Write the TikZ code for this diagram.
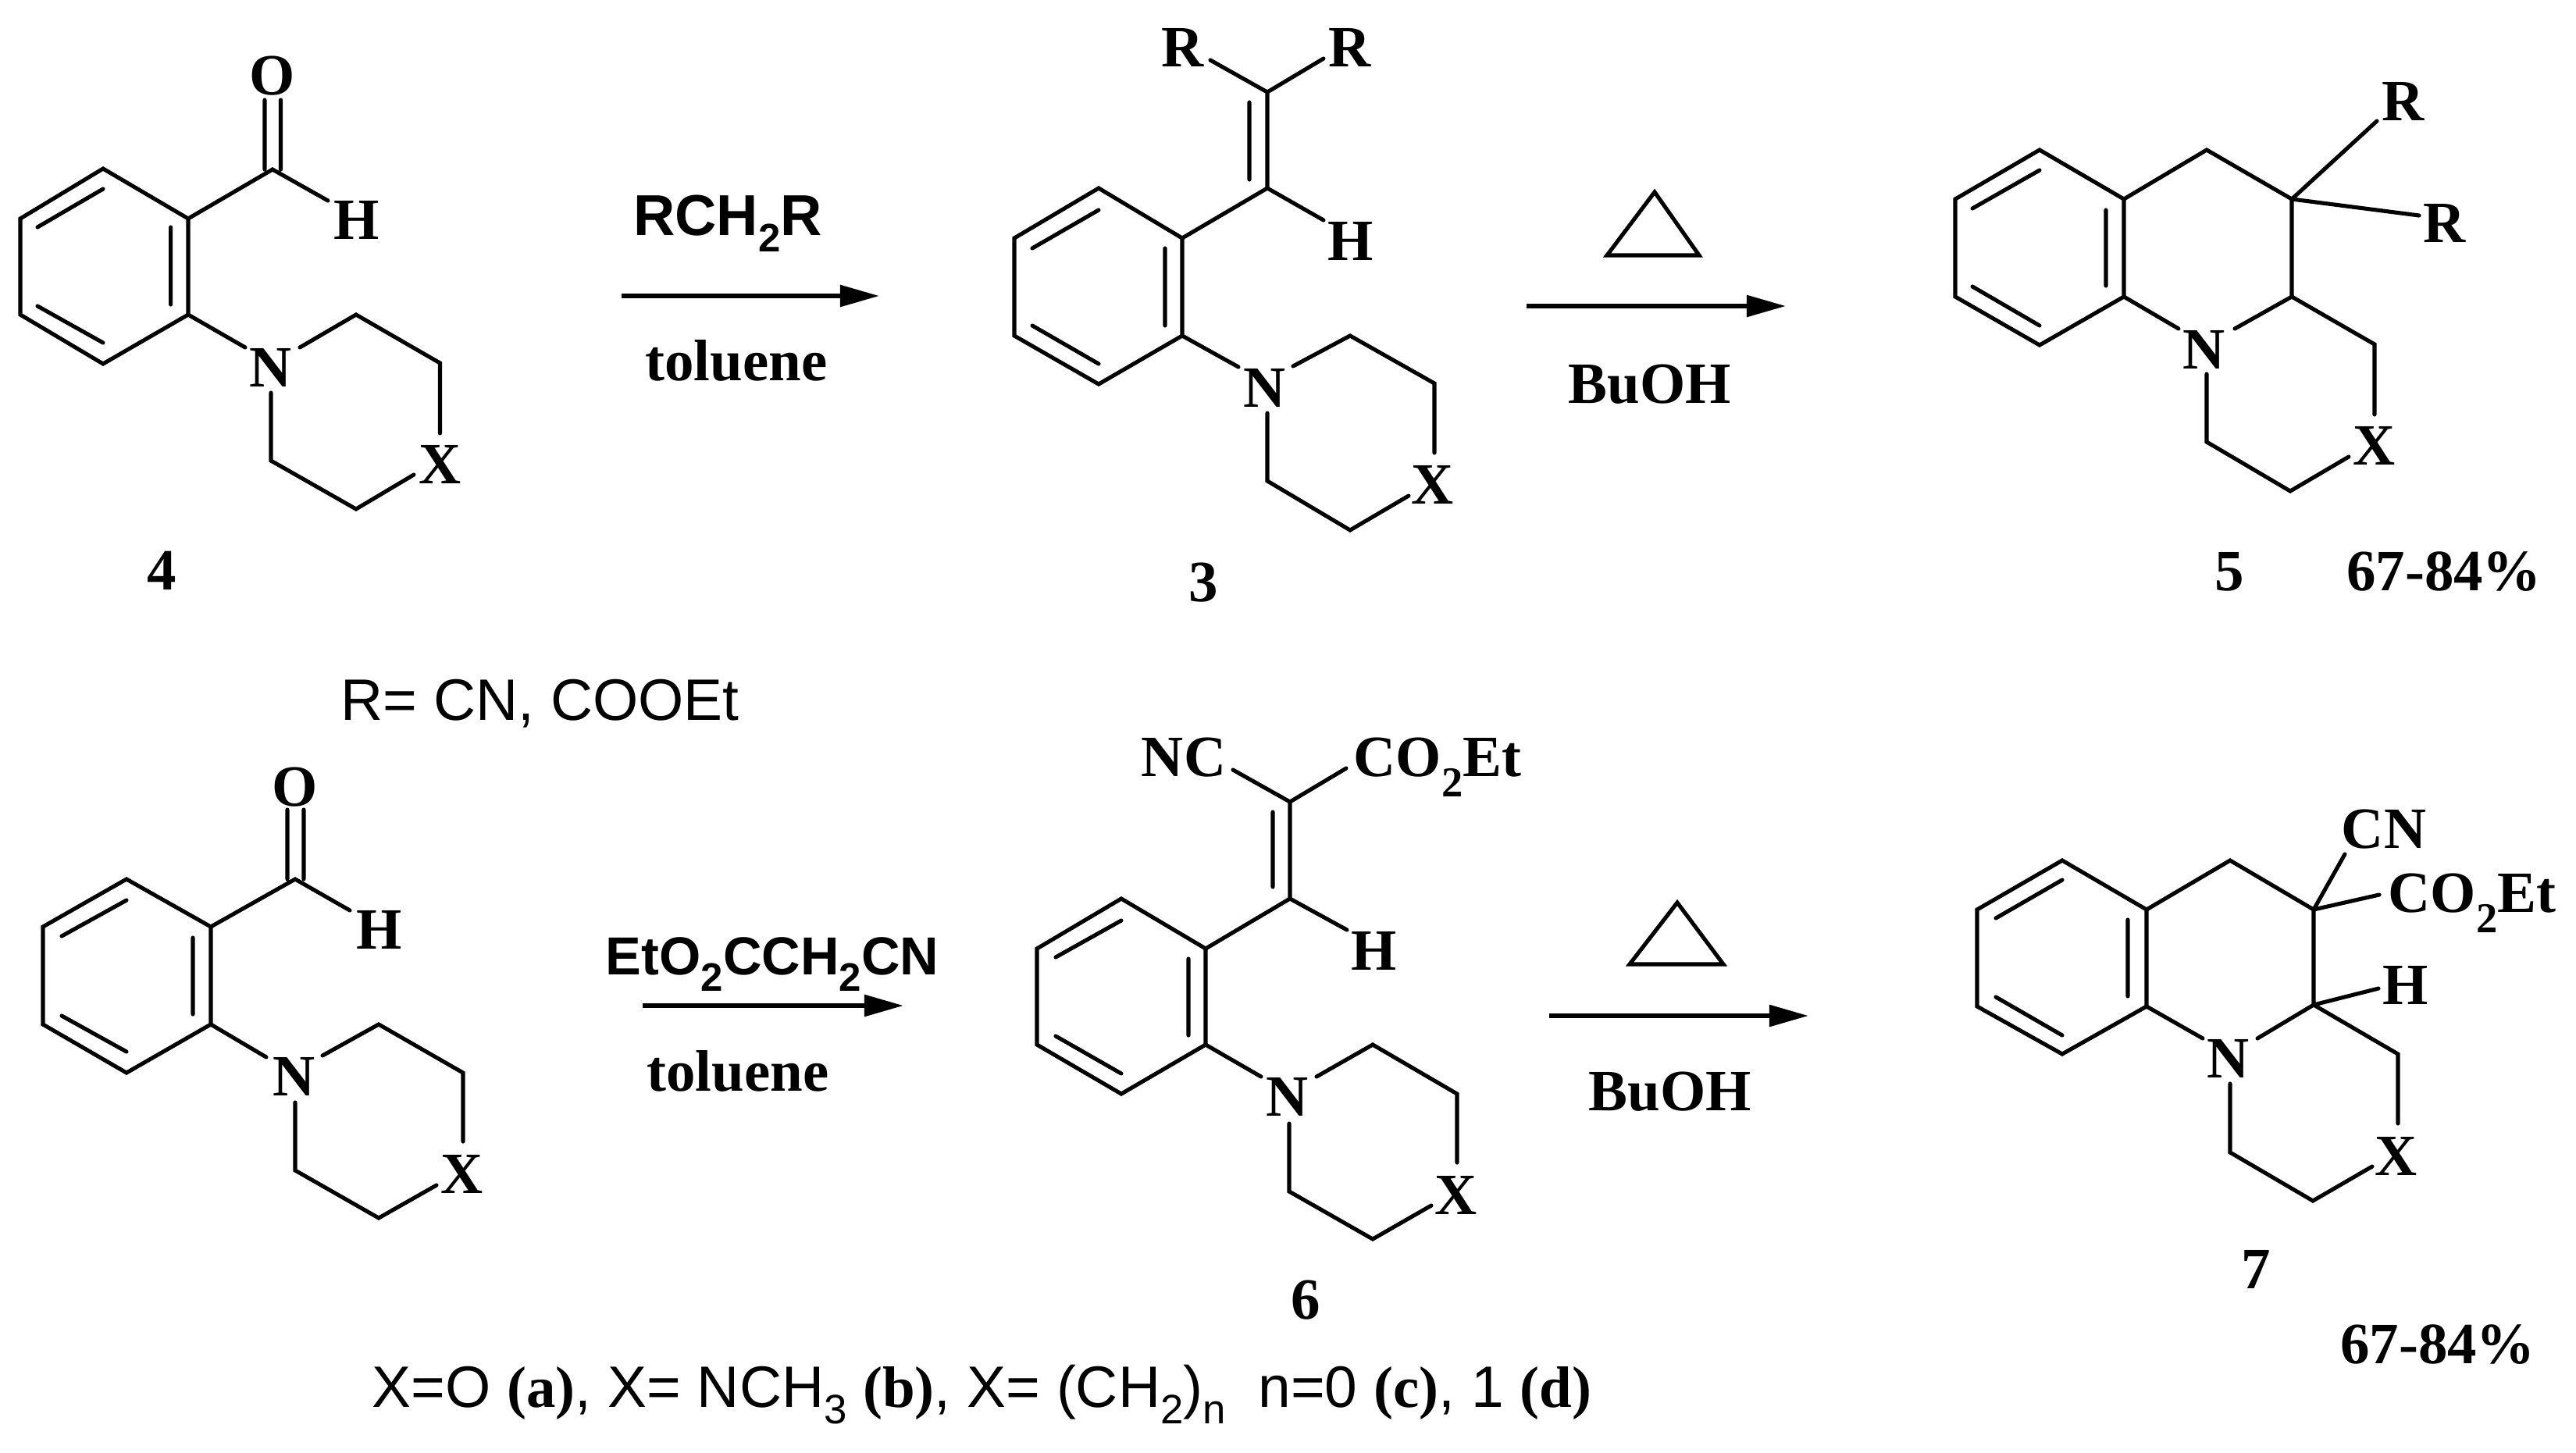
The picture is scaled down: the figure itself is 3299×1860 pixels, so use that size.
\documentclass[tikz,border=0pt]{standalone}
\usepackage{fontspec}
\setmainfont{Liberation Serif}
\newfontfamily\arialf{Liberation Sans}
\usetikzlibrary{arrows.meta}
\newcommand\subtm[1]{\raisebox{-7.4pt}{\fontsize{15.5}{15.5}\selectfont #1}}
\newcommand\subar[1]{\raisebox{-6pt}{\fontsize{14.5}{14.5}\selectfont #1}}
\newcommand\subcap[1]{\raisebox{-6pt}{\fontsize{15}{15}\selectfont #1}}
\newcommand\tb[1]{{\rmfamily\bfseries #1}}
\tikzset{
  bond/.style={line width=1.45pt,line cap=round,line join=miter,black},
  rxn/.style={line width=1.6pt,black,-{Triangle[length=0.5cm,width=0.27cm]}},
  heat/.style={line width=1.45pt,black,line join=miter},
  atom/.style={inner sep=0pt,font=\rmfamily\bfseries\fontsize{21.3}{21.3}\selectfont,text=black},
  reag/.style={inner sep=0pt,anchor=base,font=\arialf\bfseries\fontsize{19.5}{19.5}\selectfont,text=black},
  plain/.style={inner sep=0pt,anchor=base west,font=\arialf\fontsize{21.3}{21.3}\selectfont,text=black},
}
\begin{document}
\begin{tikzpicture}[x=0.01cm,y=-0.01cm]
\useasboundingbox (0,0) rectangle (3299,1860);
\fill[white] (0,0) rectangle (3299,1860);
% ---------- compound 4
\foreach \n/\x/\y in {a1/132/216,a2/241/280,a3/241/403,a4/132/466,a5/26/403,a6/26/280,
 ai1/218.6/291,ai2/218.6/390,ai3/48/291,ai4/132/242,ai5/48/392,ai6/132/439,
 ac/349/217,ao1/339/128,ao2/359.5/128,ao3/339/217,ao4/359.5/217,ah/420/257,
 an1/314/445,an2/384/445,an3/347/503,ar1/456/403,ar2/563.5/465,ar3/563.5/555,ar4/530/608,ar5/456/652,ar6/347/590}
 {\coordinate (\n) at (\x,\y);}
\draw[bond] (a1)--(a2)--(a3)--(a4)--(a5)--(a6)--cycle;
\draw[bond] (ai1)--(ai2) (ai3)--(ai4) (ai5)--(ai6);
\draw[bond] (a2)--(ac)--(ah) (ao1)--(ao3) (ao2)--(ao4);
\draw[bond] (a3)--(an1) (an2)--(ar1)--(ar2)--(ar3) (ar4)--(ar5)--(ar6)--(an3);
\node[atom] (aO) at (349,97) {O};
\node[atom] (aH) at (457,282) {H};
\node[atom] (aN) at (347,471) {N};
\node[atom] (aX) at (563.5,595) {X};
\node[atom] (l4) at (207,731) {4};
% ---------- arrow 1
\coordinate (r1s) at (796,379); \coordinate (r1e) at (1126,379);
\draw[rxn] (r1s)--(r1e);
\node[reag,font=\arialf\bfseries\fontsize{21}{21}\selectfont] (r1t) at (932,301) {RCH\subar{2}R};
\node[atom,anchor=base] (r1b) at (943,487) {toluene};
% ---------- compound 3
\foreach \n/\x/\y in {b1/1407/241,b2/1514/305,b3/1514/430,b4/1407/492,b5/1299/430,b6/1299/305,
 bi1/1492/318,bi2/1492/417,bi3/1322/318,bi4/1407/269,bi5/1322/417,bi6/1407/466,
 bv1/1623/241,bv2/1623/118,bv3/1600/131,bv4/1600/230,brl/1550/77,brr/1695/75,bh/1695/282,
 bn1/1586/470,bn2/1656/469,bn3/1623/529,br1/1729/430,br2/1837/491,br3/1837/580,br4/1804/635,br5/1729/679,br6/1623/616}
 {\coordinate (\n) at (\x,\y);}
\draw[bond] (b1)--(b2)--(b3)--(b4)--(b5)--(b6)--cycle;
\draw[bond] (bi1)--(bi2) (bi3)--(bi4) (bi5)--(bi6);
\draw[bond] (b2)--(bv1)--(bv2) (bv3)--(bv4) (brl)--(bv2)--(brr) (bv1)--(bh);
\draw[bond] (b3)--(bn1) (bn2)--(br1)--(br2)--(br3) (br4)--(br5)--(br6)--(bn3);
\node[atom] (bRl) at (1515,61) {R};
\node[atom] (bRr) at (1729,61) {R};
\node[atom] (bH) at (1730,309) {H};
\node[atom] (bN) at (1620,497) {N};
\node[atom] (bX) at (1835,621) {X};
\node[atom] (l3) at (1541,746) {3};
% ---------- arrow 2
\coordinate (h1a) at (2119,246); \coordinate (h1b) at (2058,327); \coordinate (h1c) at (2176,327);
\draw[heat] (h1a)--(h1b)--(h1c)--cycle;
\coordinate (r2s) at (1955,392); \coordinate (r2e) at (2287,392);
\draw[rxn] (r2s)--(r2e);
\node[atom,anchor=base] (r2b) at (2113,516) {BuOH};
% ---------- compound 5
\foreach \n/\x/\y in {c1/2612/192,c2/2720/255,c3/2720/380,c4/2612/442,c5/2504/380,c6/2504/255,
 ci1/2697/269,ci2/2697/366,ci3/2526/267,ci4/2612/218,ci5/2526/367,ci6/2612/417,
 cp1/2826/192,cp2/2935/255,cp3/2935/380,crb1/3044/155,crb2/3098/276,
 cn1/2790/421,cn2/2862/421,cn3/2826/479,cr1/3041/441,cr2/3041/531,cr3/3008/585,cr4/2933/629,cr5/2826/566}
 {\coordinate (\n) at (\x,\y);}
\draw[bond] (c1)--(c2)--(c3)--(c4)--(c5)--(c6)--cycle;
\draw[bond] (ci1)--(ci2) (ci3)--(ci4) (ci5)--(ci6);
\draw[bond] (c2)--(cp1)--(cp2)--(cp3) (cp2)--(crb1) (cp2)--(crb2);
\draw[bond] (c3)--(cn1) (cn2)--(cp3)--(cr1)--(cr2) (cr3)--(cr4)--(cr5)--(cn3);
\node[atom] (cR1) at (3078,130) {R};
\node[atom] (cR2) at (3131,286) {R};
\node[atom] (cN) at (2823,448) {N};
\node[atom] (cX) at (3041,571) {X};
\node[atom] (l5) at (2855,732) {5};
\node[atom] (y5) at (3130,732) {67-84\%};
% ---------- legend
\node[plain] (rdef) at (436,922) {R= CN, COOEt};
% ---------- lower left aldehyde
\foreach \n/\x/\y in {d1/162/1126,d2/270/1187,d3/270/1312,d4/162/1374,d5/55/1312,d6/55/1187,
 di1/247/1201,di2/247/1299,di3/79/1199,di4/162/1153,di5/79/1301,di6/162/1347,
 dc/378/1126,do1/368/1037,do2/389/1037,do3/368/1126,do4/389/1126,dh/448/1166,
 dn1/341/1354,dn2/413/1352,dn3/378/1412,dr1/485/1312,dr2/593/1374,dr3/593/1462,dr4/559/1518,dr5/485/1560,dr6/378/1499}
 {\coordinate (\n) at (\x,\y);}
\draw[bond] (d1)--(d2)--(d3)--(d4)--(d5)--(d6)--cycle;
\draw[bond] (di1)--(di2) (di3)--(di4) (di5)--(di6);
\draw[bond] (d2)--(dc)--(dh) (do1)--(do3) (do2)--(do4);
\draw[bond] (d3)--(dn1) (dn2)--(dr1)--(dr2)--(dr3) (dr4)--(dr5)--(dr6)--(dn3);
\node[atom] (dO) at (378,1008) {O};
\node[atom] (dH) at (486,1191) {H};
\node[atom] (dN) at (377,1379) {N};
\node[atom] (dX) at (592,1504) {X};
% ---------- arrow 3
\coordinate (r3s) at (823,1288); \coordinate (r3e) at (1157,1288);
\draw[rxn] (r3s)--(r3e);
\node[reag] (r3t) at (989,1248) {EtO\subar{2}CCH\subar{2}CN};
\node[atom,anchor=base] (r3b) at (945,1397) {toluene};
% ---------- compound 6
\foreach \n/\x/\y in {e1/1436/1151,e2/1544/1215,e3/1544/1338,e4/1436/1401,e5/1328/1338,e6/1328/1215,
 ei1/1522/1228,ei2/1522/1326,ei3/1352/1226,ei4/1436/1179,ei5/1352/1327,ei6/1436/1375,
 ev1/1652/1151,ev2/1652/1027,ev3/1630/1040,ev4/1630/1136,enc/1579/986,eco/1724/984,eh/1725/1191,
 en1/1615/1379,en2/1686/1379,en3/1651/1439,er1/1758/1338,er2/1866/1401,er3/1866/1489,er4/1833/1544,er5/1758/1587,er6/1651/1526}
 {\coordinate (\n) at (\x,\y);}
\draw[bond] (e1)--(e2)--(e3)--(e4)--(e5)--(e6)--cycle;
\draw[bond] (ei1)--(ei2) (ei3)--(ei4) (ei5)--(ei6);
\draw[bond] (e2)--(ev1)--(ev2) (ev3)--(ev4) (enc)--(ev2)--(eco) (ev1)--(eh);
\draw[bond] (e3)--(en1) (en2)--(er1)--(er2)--(er3) (er4)--(er5)--(er6)--(en3);
\node[atom,anchor=base] (eNC) at (1516,994) {NC};
\node[atom,anchor=base west] (eCO) at (1733,994) {CO\subtm{2}Et};
\node[atom] (eH) at (1760,1218) {H};
\node[atom] (eN) at (1649,1405) {N};
\node[atom] (eX) at (1865,1531) {X};
\node[atom] (l6) at (1672,1665) {6};
% ---------- arrow 4
\coordinate (h2a) at (2148,1156); \coordinate (h2b) at (2087,1235); \coordinate (h2c) at (2207,1235);
\draw[heat] (h2a)--(h2b)--(h2c)--cycle;
\coordinate (r4s) at (1984,1301); \coordinate (r4e) at (2316,1301);
\draw[rxn] (r4s)--(r4e);
\node[atom,anchor=base] (r4b) at (2139,1422) {BuOH};
% ---------- compound 7
\foreach \n/\x/\y in {f1/2641/1102,f2/2749/1165,f3/2749/1289,f4/2641/1350,f5/2532/1289,f6/2532/1165,
 fi1/2725/1178,fi2/2725/1276,fi3/2556/1176,fi4/2641/1127,fi5/2556/1277,fi6/2641/1326,
 fp1/2856/1102,fp2/2963/1165,fp3/2963/1287,fcn/3003/1094,fco/3047/1146,fh/3046/1266,
 fn1/2821/1330,fn2/2891/1330,fn3/2856/1388,fr1/3071/1350,fr2/3071/1439,fr3/3038/1494,fr4/2962/1538,fr5/2856/1476}
 {\coordinate (\n) at (\x,\y);}
\draw[bond] (f1)--(f2)--(f3)--(f4)--(f5)--(f6)--cycle;
\draw[bond] (fi1)--(fi2) (fi3)--(fi4) (fi5)--(fi6);
\draw[bond] (f2)--(fp1)--(fp2)--(fp3) (fp2)--(fcn) (fp2)--(fco) (fp3)--(fh);
\draw[bond] (f3)--(fn1) (fn2)--(fp3)--(fr1)--(fr2) (fr3)--(fr4)--(fr5)--(fn3);
\node[atom] (fCN) at (3053,1062) {CN};
\node[atom,anchor=base west] (fCO) at (3058,1168) {CO\subtm{2}Et};
\node[atom] (fH) at (3081,1262) {H};
\node[atom] (fN) at (2854,1356) {N};
\node[atom] (fX) at (3069,1481) {X};
\node[atom] (l7) at (2889,1626) {7};
\node[atom] (y7) at (3122,1722) {67-84\%};
% ---------- caption
\node[plain] (xdef) at (476,1802) {X=O \tb{(a)}, X= NCH\subcap{3} \tb{(b)}, X= (CH\subcap{2})\subcap{n}\ \ n=0 \tb{(c)}, 1 \tb{(d)}};
\end{tikzpicture}
\end{document}
